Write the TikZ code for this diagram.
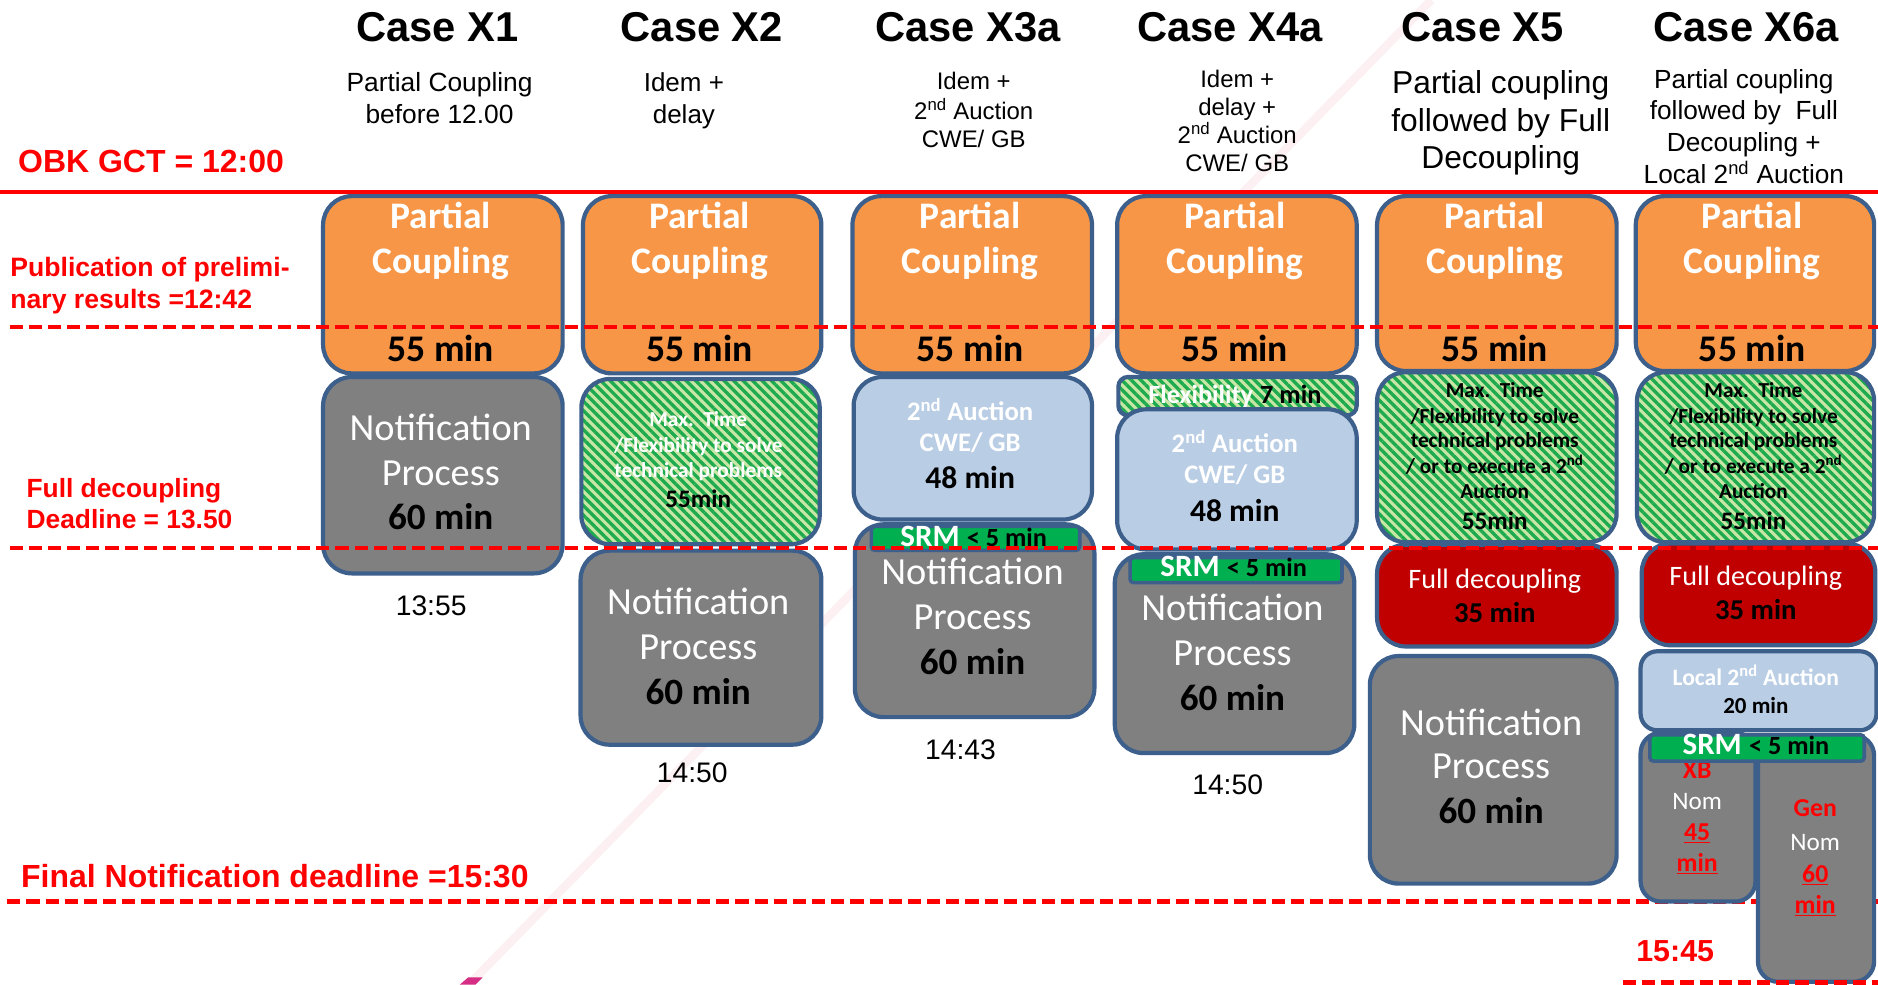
\documentclass[tikz,border=0pt]{standalone}
\usepackage{fontspec}
\setmainfont{Liberation Sans}
\newfontfamily\calib{Carlito}
\usetikzlibrary{patterns.meta}
\definecolor{bord}{RGB}{60,95,140}
\definecolor{orng}{RGB}{247,150,70}
\definecolor{gry}{RGB}{128,128,128}
\definecolor{lblue}{RGB}{185,205,229}
\definecolor{dred}{RGB}{192,0,0}
\definecolor{srmg}{RGB}{0,176,80}
\definecolor{hlite}{RGB}{200,230,165}
\definecolor{hdark}{RGB}{30,170,78}
\definecolor{pinkl}{RGB}{250,222,230}
\definecolor{magm}{RGB}{214,46,132}
\definecolor{rd}{RGB}{255,0,0}
\newcommand\Ar[1]{\fontsize{#1}{#1}\selectfont}
\newcommand\Ca[1]{\calib\fontsize{#1}{#1}\selectfont}
\newcommand\myrb[6]{\node[#2,anchor=north west,minimum width={(#5)-(#3)},minimum height={(#6)-(#4)}] (#1) at (#3,#4) {};}
\newcommand\mytx[4]{\node[anchor=base,inner sep=0pt,#2] (#1) at (#3) {#4};}
\tikzset{
 bx/.style={draw=bord,line width=3.5pt,rounded corners=24pt,inner sep=0pt},
 pcb/.style={bx,fill=orng},
 gbx/.style={bx,fill=gry},
 lbx/.style={bx,fill=lblue},
 rbx/.style={bx,fill=dred},
 hbx/.style={bx,preaction={fill=hlite},pattern={Lines[angle=-45,distance=5.6pt,line width=2.8pt]},pattern color=hdark},
 sbx/.style={draw=bord,line width=3pt,rounded corners=3pt,fill=srmg,inner sep=0pt},
 ttl/.style={font=\bfseries\Ar{34.8}},
 sub/.style={font=\Ar{#1}},
 rlab/.style={text=rd,anchor=base west,font=\bfseries\Ar{#1}},
 tim/.style={font=\Ar{23.6}},
 pcw/.style={text=white,font=\bfseries\Ca{31.3}},
 pcm/.style={font=\bfseries\Ca{31.4}},
 nw/.style={text=white,font=\Ca{32}},
 nm/.style={font=\bfseries\Ca{31}},
 hw/.style={text=white,font=\bfseries\Ca{17.8}},
 hk/.style={font=\bfseries\Ca{17.8}},
 hm/.style={font=\bfseries\Ca{21}},
 aw/.style={text=white,font=\bfseries\Ca{22.3}},
 am/.style={font=\bfseries\Ca{26.4}},
 srmt/.style={font=\bfseries\calib},
 fdw/.style={text=white,font=\Ca{23.5}},
 fdm/.style={font=\bfseries\Ca{24}},
 nomr/.style={text=rd,font=\bfseries\Ca{21.5}},
 nomw/.style={text=white,font=\Ca{21}},
 dl/.style={rd,line width=4pt,dash pattern=on 11pt off 5pt},
}
\begin{document}
\begin{tikzpicture}[x=1pt,y=-1pt]
\useasboundingbox (0,0) rectangle (1568,822);
\fill[white] (0,0) rectangle (1568,822);
% faint diagonal
\coordinate (pk1) at (391.6,822);
\coordinate (pk2) at (1195,0);
\draw[pinkl,line width=7pt,opacity=0.45] (pk1) -- (pk2);
\fill[magm] (384,822) -- (391,816) -- (403,816) -- (397,822) -- cycle;
% solid line
\coordinate (gl) at (0,160);
\coordinate (gr) at (1568,160);
\draw[rd,line width=3.5pt] (gl) -- (gr);
% titles
\mytx{t1}{ttl}{365,35}{Case X1}
\mytx{t2}{ttl}{586,35}{Case X2}
\mytx{t3}{ttl}{808,35}{Case X3a}
\mytx{t4}{ttl}{1027,35}{Case X4a}
\mytx{t5}{ttl}{1238,35}{Case X5}
\mytx{t6}{ttl}{1458,35}{Case X6a}
% subtitles
\mytx{s1a}{sub=22}{367,76.5}{Partial Coupling}
\mytx{s1b}{sub=22}{367,103}{before 12.00}
\mytx{s2a}{sub=21.7}{571,76.5}{Idem +}
\mytx{s2b}{sub=21.7}{571,103}{delay}
\mytx{s3a}{sub=20}{813,75}{Idem +}
\mytx{s3b}{sub=20}{813,99.7}{2\textsuperscript{nd} Auction}
\mytx{s3c}{sub=20}{813,123.3}{CWE/ GB}
\mytx{s4a}{sub=20}{1033,73}{Idem +}
\mytx{s4b}{sub=20}{1033,96.5}{delay +}
\mytx{s4c}{sub=20}{1033,120}{2\textsuperscript{nd} Auction}
\mytx{s4d}{sub=20}{1033,143.5}{CWE/ GB}
\mytx{s5a}{sub=26.5}{1253,78}{Partial coupling}
\mytx{s5b}{sub=26.5}{1253,109.5}{followed by Full}
\mytx{s5c}{sub=26.5}{1253,140.5}{Decoupling}
\mytx{s6a}{sub=21.9}{1456,74}{Partial coupling}
\mytx{s6b}{sub=21.9}{1456,100}{followed by\ \ Full}
\mytx{s6c}{sub=21.9}{1456,126.5}{Decoupling +}
\mytx{s6d}{sub=21.9}{1456,153}{Local 2\textsuperscript{nd} Auction}
% left labels
\mytx{l1}{rlab=26.7}{15,144}{OBK GCT = 12:00}
\mytx{l2a}{rlab=22.2}{8.5,231}{Publication of prelimi-}
\mytx{l2b}{rlab=22.2}{8.5,257.5}{nary results =12:42}
\mytx{l3a}{rlab=22}{22,415}{Full decoupling}
\mytx{l3b}{rlab=22}{22,441}{Deadline = 13.50}
\mytx{l4}{rlab=26.7}{17.5,740.6}{Final Notification deadline =15:30}
% timestamps
\mytx{m1}{tim}{360,513.5}{13:55}
\mytx{m2}{tim}{578,653}{14:50}
\mytx{m3}{tim}{802,634}{14:43}
\mytx{m4}{tim}{1025,663}{14:50}
% ---------- X1
\myrb{o1}{pcb}{268}{162}{468}{310}
\myrb{g1}{gbx}{268}{313}{468}{477}
\mytx{o1a}{pcw}{368,190.5}{Partial}
\mytx{o1b}{pcw}{368,228}{Coupling}
\mytx{o1c}{pcm}{368,302}{55 min}
\mytx{g1a}{nw}{368,367.4}{Notification}
\mytx{g1b}{nw}{368,405}{Process}
\mytx{g1c}{nm}{368,442.5}{60 min}
% ---------- X2
\myrb{o2}{pcb}{485}{162}{684}{310}
\myrb{h2}{hbx}{484}{315}{683}{453}
\myrb{g2}{gbx}{483}{458}{684}{620}
\mytx{o2a}{pcw}{584,190.5}{Partial}
\mytx{o2b}{pcw}{584,228}{Coupling}
\mytx{o2c}{pcm}{584,302}{55 min}
\mytx{h2a}{hw}{583,356}{Max.\ \ Time}
\mytx{h2b}{hw}{583,378}{/Flexibility to solve}
\mytx{h2c}{hw}{583,399}{technical problems}
\mytx{h2d}{hm}{583,424}{55min}
\mytx{g2a}{nw}{583,513}{Notification}
\mytx{g2b}{nw}{583,550.5}{Process}
\mytx{g2c}{nm}{583,588}{60 min}
% ---------- X3a
\myrb{o3}{pcb}{710}{162}{910}{310}
\myrb{b3}{lbx}{711}{313}{910}{432}
\myrb{g3}{gbx}{712}{436}{912}{597}
\myrb{r3}{sbx}{726}{438}{900}{458}
\mytx{o3a}{pcw}{810,190.5}{Partial}
\mytx{o3b}{pcw}{810,228}{Coupling}
\mytx{o3c}{pcm}{810,302}{55 min}
\mytx{b3a}{aw}{810,350.7}{2\textsuperscript{nd} Auction}
\mytx{b3b}{aw}{810,377.2}{CWE/ GB}
\mytx{b3c}{am}{810,407.5}{48 min}
\mytx{r3a}{srmt}{813,456.5}{{\color{white}\Ca{25.9}SRM}\hspace{6pt}{\Ca{21.9}< 5 min}}
\mytx{g3a}{nw}{812,488}{Notification}
\mytx{g3b}{nw}{812,525.5}{Process}
\mytx{g3c}{nm}{812,563}{60 min}
% ---------- X4a
\myrb{o4}{pcb}{931}{162}{1131}{310}
\myrb{f4}{hbx,rounded corners=8pt}{932}{313}{1131}{345}
\mytx{f4a}{srmt}{1031,336.8}{{\color{white}\Ca{21.9}Flexibility}\hspace{6pt}{\Ca{21.9}7 min}}
\myrb{b4}{lbx}{931}{340}{1131}{457}
\myrb{g4}{gbx}{929}{461}{1129}{627}
\myrb{r4}{sbx}{942}{464}{1119}{485}
\mytx{o4a}{pcw}{1031,190.5}{Partial}
\mytx{o4b}{pcw}{1031,228}{Coupling}
\mytx{o4c}{pcm}{1031,302}{55 min}
\mytx{b4a}{aw}{1031,378}{2\textsuperscript{nd} Auction}
\mytx{b4b}{aw}{1031,404}{CWE/ GB}
\mytx{b4c}{am}{1031,435}{48 min}
\mytx{r4a}{srmt}{1030,481.5}{{\color{white}\Ca{25.9}SRM}\hspace{6pt}{\Ca{21.9}< 5 min}}
\mytx{g4a}{nw}{1029,518}{Notification}
\mytx{g4b}{nw}{1029,556}{Process}
\mytx{g4c}{nm}{1029,593}{60 min}
% ---------- X5
\myrb{o5}{pcb}{1148}{162}{1348}{308}
\myrb{h5}{hbx}{1148}{309}{1348}{451}
\myrb{d5}{rbx}{1148}{453}{1348}{538}
\myrb{g5}{gbx}{1142}{546}{1348}{736}
\mytx{o5a}{pcw}{1248,190.5}{Partial}
\mytx{o5b}{pcw}{1248,228}{Coupling}
\mytx{o5c}{pcm}{1248,302}{55 min}
\mytx{h5a}{hk}{1248,332}{Max.\ \ Time}
\mytx{h5b}{hk}{1248,353.5}{/Flexibility to solve}
\mytx{h5c}{hk}{1248,374}{technical problems}
\mytx{h5d}{hk}{1248,395}{/ or to execute a 2\textsuperscript{nd}}
\mytx{h5e}{hk}{1248,416.6}{Auction}
\mytx{h5f}{hm}{1248,442.5}{55min}
\mytx{d5a}{fdw}{1248,491}{Full decoupling}
\mytx{d5b}{fdm}{1248,520}{35 min}
\mytx{g5a}{nw}{1245,613.7}{Notification}
\mytx{g5b}{nw}{1245,649.8}{Process}
\mytx{g5c}{nm}{1245,687.4}{60 min}
% dashed lines
\coordinate (d1l) at (8,273); \coordinate (d1r) at (1568,273);
\coordinate (d2l) at (8,457.5); \coordinate (d2r) at (1568,457.5);
\coordinate (d3l) at (6,753); \coordinate (d3r) at (1568,753);
\draw[dl] (d3l) -- (d3r);
% ---------- X6a
\myrb{o6}{pcb}{1364}{162}{1563}{308}
\myrb{h6}{hbx}{1365}{309}{1563}{451}
\myrb{d6}{rbx}{1369}{452}{1564}{537}
\myrb{b6}{lbx,rounded corners=14pt}{1368}{542}{1565}{608}
\myrb{x6}{gbx,rounded corners=17pt}{1368}{610}{1464}{751}
\myrb{n6}{gbx,rounded corners=17pt}{1466}{612}{1563}{818}
\mytx{x6a}{nomr}{1417,650}{XB}
\myrb{r6}{sbx}{1376}{612}{1555}{634}
\mytx{o6a}{pcw}{1463,190.5}{Partial}
\mytx{o6b}{pcw}{1463,228}{Coupling}
\mytx{o6c}{pcm}{1463,302}{55 min}
\mytx{h6a}{hk}{1464,332}{Max.\ \ Time}
\mytx{h6b}{hk}{1464,353.5}{/Flexibility to solve}
\mytx{h6c}{hk}{1464,374}{technical problems}
\mytx{h6d}{hk}{1464,395}{/ or to execute a 2\textsuperscript{nd}}
\mytx{h6e}{hk}{1464,416.6}{Auction}
\mytx{h6f}{hm}{1464,442.5}{55min}
\mytx{d6a}{fdw}{1466,488.5}{Full decoupling}
\mytx{d6b}{fdm}{1466,517}{35 min}
\mytx{b6a}{text=white,font=\bfseries\Ca{19.7}}{1466,572}{Local 2\textsuperscript{nd} Auction}
\mytx{b6b}{font=\bfseries\Ca{19.2}}{1466,596}{20 min}
\mytx{r6a}{srmt}{1466,630}{{\color{white}\Ca{25.9}SRM}\hspace{6pt}{\Ca{21.9}< 5 min}}
\mytx{x6b}{nomw}{1417,675.5}{Nom}
\mytx{x6c}{nomr}{1417,701.4}{\underline{45}}
\mytx{x6d}{nomr}{1417,728}{\underline{min}}
\mytx{n6a}{nomr}{1515.6,682}{Gen}
\mytx{n6b}{nomw}{1515.6,709.7}{Nom}
\mytx{n6c}{nomr}{1515.6,737}{\underline{60}}
\mytx{n6d}{nomr}{1515.6,762.5}{\underline{min}}
\mytx{q6}{rlab=25.4}{1366,803}{15:45}
\draw[dl] (d1l) -- (d1r);
\draw[dl] (d2l) -- (d2r);
\coordinate (d4l) at (1355,820); \coordinate (d4r) at (1568,820);
\draw[dl] (d4l) -- (d4r);
\end{tikzpicture}
\end{document}
